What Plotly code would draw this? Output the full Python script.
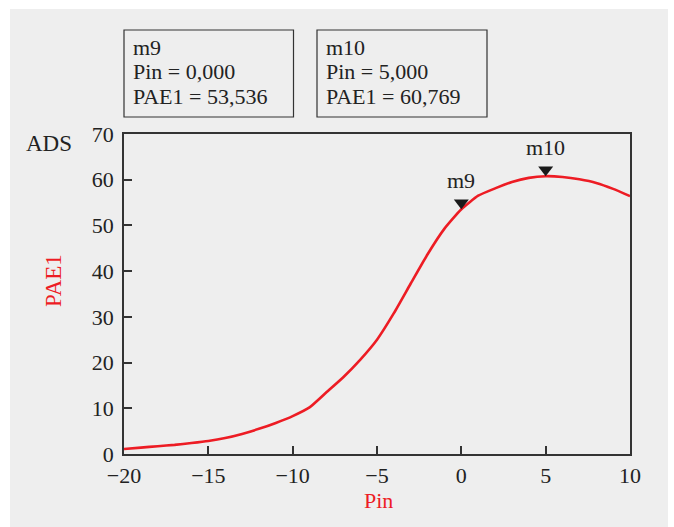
import plotly.graph_objects as go

# PAE1 (%) versus input power Pin (dBm)
pin = list(range(-20, 11))
pae1 = [1.1, 1.4, 1.7, 2.0, 2.4, 2.85, 3.5, 4.4, 5.5, 6.8, 8.3, 10.2, 13.5,
        16.8, 20.6, 25.0, 30.8, 37.3, 43.7, 49.3, 53.536, 56.5, 58.1, 59.5,
        60.4, 60.769, 60.6, 60.1, 59.3, 58.0, 56.4]

# markers
marker_names = ["m9", "m10"]
marker_pin = [0.0, 5.0]
marker_pae = [53.536, 60.769]

x_range = [-20, 10]
y_range = [0, 70]
x_ticks = [-20, -15, -10, -5, 0, 5, 10]
y_ticks = [0, 10, 20, 30, 40, 50, 60, 70]

W, H = 674, 527
L, R, T, B = 124, 630, 134, 454  # plot area in pixels
PW, PH = R - L, B - T

FONT = "Times New Roman, Liberation Serif, serif"
TXT = "#222222"
RED = "#ed1c24"
AX = "#333333"


def px(x):
    return (x - L) / PW


def py(y):
    return (B - y) / PH


fig = go.Figure()

fig.add_trace(go.Scatter(x=pin, y=pae1, mode="lines",
                         line=dict(color=RED, width=2.6, shape="spline",
                                   smoothing=0.5),
                         hoverinfo="skip", showlegend=False))

# triangle markers sit with their tip on the curve
tri_size = 13
dy = (tri_size / 2) * (y_range[1] - y_range[0]) / PH
fig.add_trace(go.Scatter(x=marker_pin, y=[v + dy for v in marker_pae],
                         mode="markers",
                         marker=dict(symbol="triangle-down", size=tri_size,
                                     color="#1a1a1a", line=dict(width=0)),
                         hoverinfo="skip", showlegend=False))

shapes = [
    dict(type="rect", xref="paper", yref="paper",
         x0=px(10), x1=px(668), y0=py(527), y1=py(9),
         fillcolor="#eeeeee", line=dict(width=0), layer="below"),
]

annotations = []
for name, xv, yv in zip(marker_names, marker_pin, marker_pae):
    annotations.append(dict(x=xv, y=yv, xref="x", yref="y", text=name,
                            showarrow=False, yshift=29, xanchor="center",
                            yanchor="middle",
                            font=dict(family=FONT, size=22, color=TXT)))

# readout boxes
box_x = [(124, 293.5), (317, 487)]
for (bx0, bx1), name, xv, yv in zip(box_x, marker_names, marker_pin, marker_pae):
    shapes.append(dict(type="rect", xref="paper", yref="paper",
                       x0=px(bx0), x1=px(bx1), y0=py(117), y1=py(30),
                       line=dict(color=AX, width=1.2), fillcolor="rgba(0,0,0,0)"))
    lines = [name,
             "Pin = " + f"{xv:.3f}".replace(".", ","),
             "PAE1 = " + f"{yv:.3f}".replace(".", ",")]
    for i, t in enumerate(lines):
        annotations.append(dict(x=px(bx0 + 7), y=py(48 + 24 * i),
                                xref="paper", yref="paper", text=t,
                                showarrow=False, xanchor="left",
                                yanchor="middle",
                                font=dict(family=FONT, size=22, color=TXT)))

# axis titles
annotations += [
    dict(x=px(378), y=py(500), xref="paper", yref="paper", text="Pin",
         showarrow=False, xanchor="center", yanchor="middle",
         font=dict(family=FONT, size=22, color=RED)),
    dict(x=px(53), y=py(281), xref="paper", yref="paper", text="PAE1",
         showarrow=False, xanchor="center", yanchor="middle", textangle=-90,
         font=dict(family=FONT, size=23, color=RED)),
    dict(x=px(49), y=py(143), xref="paper", yref="paper", text="ADS",
         showarrow=False, xanchor="center", yanchor="middle",
         font=dict(family=FONT, size=23, color=TXT)),
]

axis_common = dict(showgrid=False, zeroline=False, showline=True,
                   linecolor=AX, linewidth=1.5, mirror=True,
                   ticks="inside", ticklen=8, tickwidth=1.5, tickcolor=AX,
                   tickfont=dict(family=FONT, size=22, color=TXT))

fig.update_layout(
    width=W, height=H,
    margin=dict(l=L, r=W - R, t=T, b=H - B, pad=0),
    paper_bgcolor="white",
    plot_bgcolor="rgba(0,0,0,0)",
    xaxis=dict(range=x_range, tickvals=x_ticks, ticklabelstandoff=1,
               **axis_common),
    yaxis=dict(range=y_range, tickvals=y_ticks, ticklabelstandoff=4,
               **axis_common),
    shapes=shapes,
    annotations=annotations,
)

fig.write_html("out.html")
